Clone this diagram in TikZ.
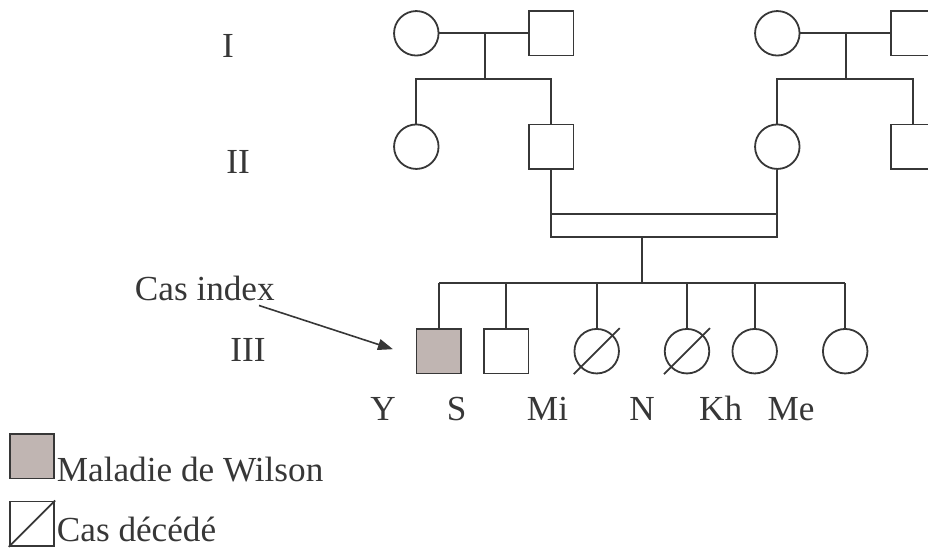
\documentclass[tikz,border=0pt]{standalone}
\usepackage{fontspec}
\setmainfont{Liberation Serif}
\usetikzlibrary{arrows.meta}
\definecolor{ink}{RGB}{55,55,55}
\definecolor{sick}{RGB}{192,181,178}
\newcommand\pedfont{\fontsize{35.2pt}{40pt}\selectfont}
\begin{document}
\begin{tikzpicture}[x=1pt,y=-1pt,color=ink,line width=1.8pt,
  male/.style={rectangle,draw,minimum size=44.5pt,inner sep=0pt},
  female/.style={circle,draw,minimum size=44.5pt,inner sep=0pt},
  affected/.style={fill=sick},
  txt/.style={font=\pedfont,inner sep=0pt,anchor=base},
  txtl/.style={font=\pedfont,inner sep=0pt,anchor=base west},
  pointer/.style={-{Triangle[length=15pt,width=11pt]},line width=1.6pt}]
\clip (0,0) rectangle (928,548);

% generation numbers
\node[txt] (gI) at (228,57.5) {I};
\node[txt] (gII) at (238,173.5) {II};
\node[txt] (gIII) at (248,361.5) {III};

% generation I
\node[female] (i1) at (416.3,33.3) {};
\node[male] (i2) at (551.3,33.3) {};
\node[female] (i3) at (777.3,33.3) {};
\node[male] (i4) at (913,33.3) {};

% generation II
\node[female] (ii1) at (416.3,146.7) {};
\node[male] (ii2) at (551.3,146.7) {};
\node[female] (ii3) at (777.3,146.7) {};
\node[male] (ii4) at (913,146.7) {};

% left couple and its children
\draw (i1) -- (i2);
\coordinate (d1) at (485,33.3);
\coordinate (s1) at (485,78.7);
\draw (d1) -- (s1);
\draw (ii1) -- (ii1 |- s1) -- (ii2 |- s1) -- (ii2);

% right couple and its children
\draw (i3) -- (i4);
\coordinate (d2) at (846,33.3);
\coordinate (s2) at (846,78.7);
\draw (d2) -- (s2);
\draw (ii3) -- (ii3 |- s2) -- (ii4 |- s2) -- (ii4);

% consanguineous union (double line)
\coordinate (u1) at (642,214);
\coordinate (u2) at (642,236.7);
\draw (ii2) -- (ii2 |- u2) -- (ii3 |- u2) -- (ii3);
\draw (ii2 |- u1) -- (ii3 |- u1);
\coordinate (s3) at (642,283.3);
\draw (u2) -- (s3);

% generation III
\node[male,affected] (c1) at (438.8,351.2) {};
\node[male] (c2) at (506.2,351.2) {};
\node[female] (c3) at (596.7,351.2) {};
\node[female] (c4) at (687,351.2) {};
\node[female] (c5) at (754.7,351.2) {};
\node[female] (c6) at (845.2,351.2) {};
\draw (c1 |- s3) -- (c6 |- s3);
\foreach \c in {c1,c2,c3,c4,c5,c6} \draw (\c) -- (\c |- s3);

% deceased
\draw ([shift={(-23,23)}]c3.center) -- ([shift={(23,-23)}]c3.center);
\draw ([shift={(-23,23)}]c4.center) -- ([shift={(23,-23)}]c4.center);

% names
\node[txt] (nY) at (383,420) {Y};
\node[txt] (nS) at (456.7,420) {S};
\node[txt] (nMi) at (547.5,420) {Mi};
\node[txt] (nN) at (642,420) {N};
\node[txt] (nKh) at (720.7,420) {Kh};
\node[txt] (nMe) at (791,420) {Me};

% proband
\node[txtl] (ci) at (134,300) {Cas index};
\coordinate (ciTail) at (259,305.5);
\draw[pointer] (ciTail) -- ([shift={(-22.7,-2)}]c1.west);

% legend
\node[male,affected] (lg1) at (32,456.2) {};
\node[txtl] (lg1t) at (56,481) {Maladie de Wilson};
\node[male] (lg2) at (32,523.7) {};
\draw (lg2.south west) -- (lg2.north east);
\node[txtl] (lg2t) at (56,541.5) {Cas décédé};
\end{tikzpicture}
\end{document}
